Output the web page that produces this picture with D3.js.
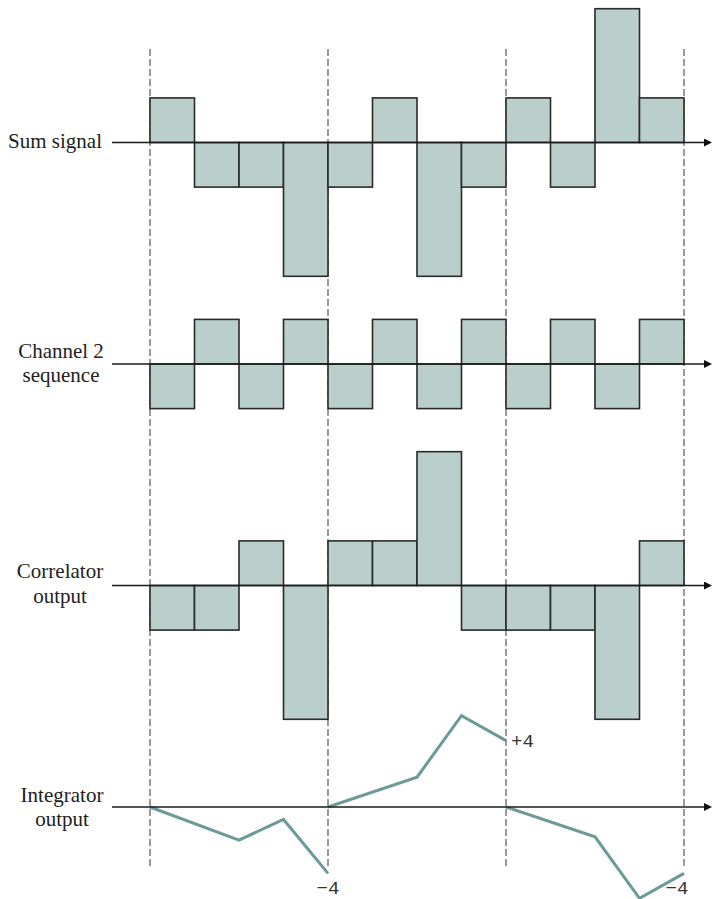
<!DOCTYPE html>
<html>
<head>
<meta charset="utf-8">
<script src="https://cdn.jsdelivr.net/npm/d3@7"></script>
<style>
  html, body { margin: 0; padding: 0; background: #fff; }
  svg { display: block; }
  .serif { font-family: "Liberation Serif", "Times New Roman", Times, "DejaVu Serif", serif; }
  .mono { font-family: "Liberation Mono", "Courier New", Courier, "DejaVu Sans Mono", monospace; }
</style>
</head>
<body>
<svg id="chart" width="712" height="899"></svg>
<script>
// ---- data ----
const chips = d3.range(12);                       // chip index 0..11
const sumSignal   = [1, -1, -1, -3, -1, 1, -3, -1, 1, -1, 3, 1];
const channel2    = [-1, 1, -1, 1, -1, 1, -1, 1, -1, 1, -1, 1];
const correlator  = [-1, -1, 1, -3, 1, 1, 3, -1, -1, -1, -3, 1];
const bitBoundaries = [0, 4, 8, 12];
// integrator output: chip positions inside a bit and values
const integratorChips = [0, 2, 3, 4];
const integratorBits = [
  [0, -2, -0.75, -4],
  [0, 1.8, 5.5, 4],
  [0, -1.8, -5.5, -4]
];
const integratorLabels = ["\u22124", "+4", "\u22124"];
const rowLabels = [["Sum signal"], ["Channel 2", "sequence"], ["Correlator", "output"], ["Integrator", "output"]];

// ---- layout ----
const svg = d3.select("#chart");
const x = d3.scaleLinear().domain([0, 12]).range([150, 684]);
const baselines = [142.5, 364, 585.5, 807];
const unit = 44.6;
const barY = b => d3.scaleLinear().domain([-3, 3]).range([b + 3 * unit, b - 3 * unit]);
const intUnit = 16.6;
const intY = d3.scaleLinear().domain([-6, 6]).range([baselines[3] + 6 * intUnit, baselines[3] - 6 * intUnit]);

const fill = "#bacfcb", barStroke = "#2a2a2a", lineColor = "#6b9a97";

// dashed bit boundaries
svg.append("g").selectAll("line").data(bitBoundaries).join("line")
  .attr("x1", d => x(d)).attr("x2", d => x(d))
  .attr("y1", 49).attr("y2", 866)
  .attr("stroke", "#666").attr("stroke-width", 1.3)
  .attr("stroke-dasharray", "7,3");

// bar rows
[sumSignal, channel2, correlator].forEach((vals, i) => {
  const y = barY(baselines[i]);
  svg.append("g").selectAll("rect").data(chips).join("rect")
    .attr("x", d => x(d))
    .attr("width", x(1) - x(0))
    .attr("y", d => Math.min(y(vals[d]), y(0)))
    .attr("height", d => Math.abs(y(vals[d]) - y(0)))
    .attr("fill", fill)
    .attr("stroke", barStroke)
    .attr("stroke-width", 1.6);
});

// integrator line
const line = d3.line().x(d => x(d[0])).y(d => intY(d[1]));
integratorBits.forEach((vals, b) => {
  const pts = integratorChips.map((c, k) => [bitBoundaries[b] + c, vals[k]]);
  svg.append("path").attr("d", line(pts))
    .attr("fill", "none").attr("stroke", lineColor)
    .attr("stroke-width", 3).attr("stroke-linejoin", "miter");
});

// integrator labels
const lbl = svg.append("g").attr("class", "mono")
  .style("font-size", "19px").attr("fill", "#333");
lbl.append("text").attr("x", x(4)).attr("y", 894).attr("text-anchor", "middle").text(integratorLabels[0]);
lbl.append("text").attr("x", x(8) + 5).attr("y", 747).attr("text-anchor", "start").text(integratorLabels[1]);
lbl.append("text").attr("x", x(12) - 7).attr("y", 894).attr("text-anchor", "middle").text(integratorLabels[2]);

// axes with arrows
svg.append("defs").append("marker")
  .attr("id", "arrow").attr("viewBox", "0 0 10 10")
  .attr("refX", 0).attr("refY", 5)
  .attr("markerWidth", 8).attr("markerHeight", 8)
  .attr("markerUnits", "userSpaceOnUse")
  .attr("orient", "auto")
  .append("path").attr("d", "M0,0 L10,5 L0,10 Z").attr("fill", "#111");

svg.append("g").selectAll("line").data(baselines).join("line")
  .attr("x1", 112).attr("x2", 704)
  .attr("y1", d => d).attr("y2", d => d)
  .attr("stroke", "#1a1a1a").attr("stroke-width", 1.5)
  .attr("marker-end", "url(#arrow)");

// row labels
const labelPos = [
  { x: 102, anchor: "end", ys: [148] },
  { x: 61, anchor: "middle", ys: [358, 382] },
  { x: 60, anchor: "middle", ys: [578, 603] },
  { x: 62, anchor: "middle", ys: [802, 826] }
];
const tg = svg.append("g").attr("class", "serif")
  .style("font-size", "21px").attr("fill", "#222");
rowLabels.forEach((lines, i) => {
  lines.forEach((t, k) => {
    tg.append("text").attr("x", labelPos[i].x).attr("y", labelPos[i].ys[k])
      .attr("text-anchor", labelPos[i].anchor).text(t);
  });
});
</script>
</body>
</html>
